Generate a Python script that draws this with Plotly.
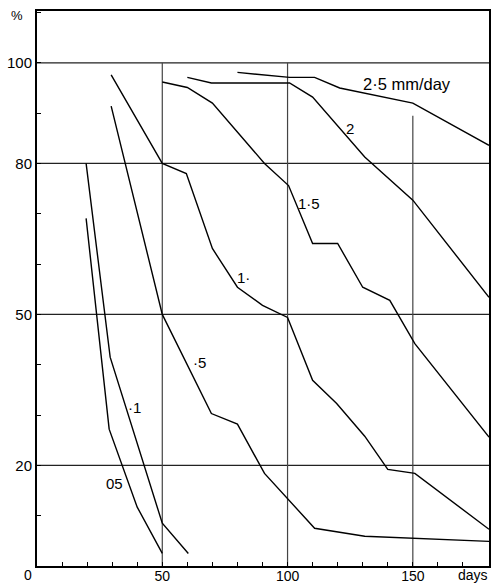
import plotly.graph_objects as go

# Curves: percentage remaining vs days for various rates (mm/day)
x_005 = [19.6, 28.8, 40, 50]
y_005 = [69.1, 27.2, 11.7, 2.5]

x_01 = [19.6, 29.2, 50, 60.4]
y_01 = [80, 41.5, 8.5, 2.5]

x_05 = [29.6, 50, 69.6, 80, 90.8, 110.8, 130.8, 180.4]
y_05 = [91.4, 50, 30.3, 28.2, 18.4, 7.5, 5.9, 4.9]

x_1 = [29.6, 50, 59.6, 70, 80, 90, 100, 110, 119.6, 130.8, 140, 150.8, 180.4]
y_1 = [97.6, 80, 78, 63.1, 55.4, 51.8, 49.4, 36.9, 32.3, 25.8, 19.2, 18.4, 7.3]

x_15 = [50, 60, 70, 90.8, 100.4, 110, 120, 130, 140.8, 150.8, 180.4]
y_15 = [96.2, 95.1, 92.0, 80.0, 75.6, 64.1, 64.1, 55.4, 52.8, 44.2, 25.6]

x_2 = [60, 69.6, 100.8, 110, 130.8, 150, 180.4]
y_2 = [97.1, 96.0, 96.0, 93.2, 81.3, 72.7, 53.4]

x_25 = [80, 100.8, 110.8, 120.8, 150, 180.4]
y_25 = [98.1, 97.1, 97.1, 95.0, 92.0, 83.6]

series = [(x_005, y_005), (x_01, y_01), (x_05, y_05), (x_1, y_1),
          (x_15, y_15), (x_2, y_2), (x_25, y_25)]

curve_labels = ["05", "·1", "·5", "1·", "1·5", "2", "2·5 mm/day"]
label_x = [30.8, 38.8, 64.8, 82.4, 108.4, 124.8, 147.6]
label_y = [16.4, 31.5, 40.5, 57.4, 72.1, 87.0, 95.7]
label_size = [15, 15, 15, 15, 15, 15, 16.5]

x_ticks = list(range(0, 181, 10))
x_ticktext = {50: "50", 100: "100", 150: "150"}
y_ticks = list(range(0, 111, 10))
y_ticktext = {20: "20", 50: "50", 80: "80", 100: "100"}

h_grid = [100, 80, 50, 20]
v_grid = [50, 100, 150]
v_grid_top = [100, 100, 89.5]

FONT = "Liberation Sans"

fig = go.Figure()
for xs, ys in series:
    fig.add_trace(go.Scatter(x=xs, y=ys, mode="lines",
                             line=dict(color="black", width=1.4),
                             showlegend=False, hoverinfo="skip"))

shapes = []
for hy in h_grid:
    shapes.append(dict(type="line", xref="x", yref="y", x0=0, x1=180.4, y0=hy, y1=hy,
                       line=dict(color="#222", width=1.2), layer="below"))
for vx, top in zip(v_grid, v_grid_top):
    shapes.append(dict(type="line", xref="x", yref="y", x0=vx, x1=vx, y0=0, y1=top,
                       line=dict(color="#444", width=1.2), layer="below"))

annotations = []
for t, ax_, ay_, sz in zip(curve_labels, label_x, label_y, label_size):
    annotations.append(dict(x=ax_, y=ay_, xref="x", yref="y", text=t, showarrow=False,
                            font=dict(family=FONT, size=sz, color="black")))
corner = dict(xref="paper", yref="paper", showarrow=False,
              xanchor="center", yanchor="middle", borderpad=0)
annotations.append(dict(x=-0.044, y=0.992, text="%",
                        font=dict(family=FONT, size=13, color="black"), **corner))
annotations.append(dict(x=-0.02, y=-0.016, text="0",
                        font=dict(family=FONT, size=14, color="black"), **corner))
annotations.append(dict(x=0.965, y=-0.016, text="days",
                        font=dict(family=FONT, size=14, color="black"), **corner))

fig.update_layout(
    width=492, height=584,
    margin=dict(l=37, r=3, t=11, b=18),
    paper_bgcolor="white", plot_bgcolor="white",
    shapes=shapes, annotations=annotations,
    font=dict(family=FONT, size=15, color="black"),
    xaxis=dict(range=[0, 180.4], tickmode="array", tickvals=x_ticks,
               ticktext=[x_ticktext.get(v, "") for v in x_ticks],
               ticks="inside", ticklen=4, tickwidth=1.2, tickcolor="black",
               ticklabelstandoff=-4, tickfont=dict(size=14),
               showgrid=False, zeroline=False, showline=True, linecolor="black",
               linewidth=2, mirror=True, automargin=False, fixedrange=True),
    yaxis=dict(range=[0, 110.3], tickmode="array", tickvals=y_ticks,
               ticktext=[y_ticktext.get(v, "") for v in y_ticks],
               ticks="inside", ticklen=4, tickwidth=1.2, tickcolor="black",
               showgrid=False, zeroline=False, showline=True, linecolor="black",
               linewidth=2, mirror=True, automargin=False, fixedrange=True),
)

fig.write_html("out.html")
